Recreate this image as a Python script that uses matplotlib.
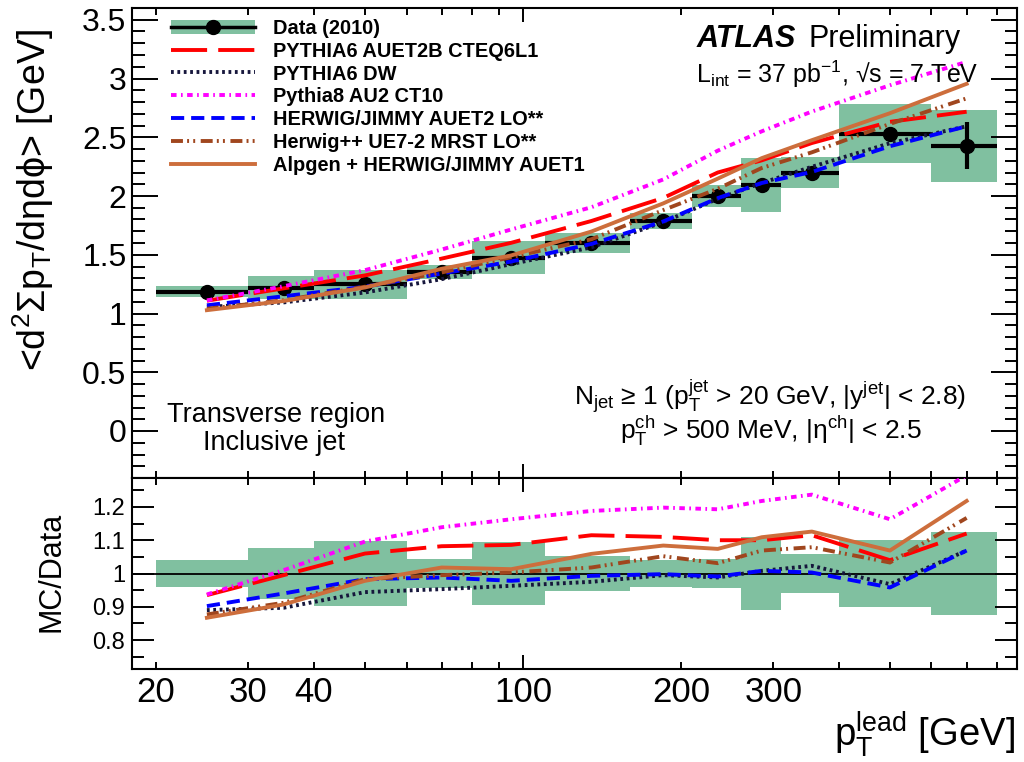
import numpy as np
import matplotlib
matplotlib.use("Agg")
import matplotlib.pyplot as plt
from matplotlib.lines import Line2D
from matplotlib.patches import Patch
from matplotlib.ticker import FixedLocator, MultipleLocator, FuncFormatter, NullFormatter

plt.rcParams["font.family"] = ["Liberation Sans", "DejaVu Sans"]
plt.rcParams["mathtext.fontset"] = "custom"
plt.rcParams["mathtext.rm"] = "Liberation Sans"
plt.rcParams["mathtext.it"] = "Liberation Sans:italic"
plt.rcParams["mathtext.bf"] = "Liberation Sans:bold"
plt.rcParams["lines.scale_dashes"] = False

# binning in leading-jet pT [GeV]
bin_lo = [20, 30, 40, 60, 80, 110, 160, 210, 260, 310, 400, 600]
bin_hi = [30, 40, 60, 80, 110, 160, 210, 260, 310, 400, 600, 800]

# data (2010)
data_val = [1.186, 1.22, 1.249, 1.356, 1.475, 1.603, 1.787, 2.0, 2.094, 2.198, 2.53, 2.426]
data_stat = [0.005, 0.005, 0.006, 0.008, 0.01, 0.012, 0.015, 0.02, 0.025, 0.03, 0.05, 0.2]
data_rel_syst = [0.042, 0.078, 0.098, 0.045, 0.095, 0.053, 0.04, 0.045, 0.11, 0.06, 0.10, 0.125]

# MC / Data ratios
r_py6_auet2b = [0.935, 0.995, 1.06, 1.082, 1.086, 1.115, 1.11, 1.10, 1.10, 1.115, 1.04, 1.12]
r_py6_dw = [0.89, 0.897, 0.944, 0.953, 0.963, 0.975, 0.995, 0.988, 1.008, 1.023, 0.968, 1.069]
r_py8_au2 = [0.937, 1.01, 1.096, 1.139, 1.163, 1.188, 1.198, 1.193, 1.218, 1.237, 1.163, 1.295]
r_hw_auet2 = [0.902, 0.94, 0.983, 0.988, 0.978, 0.993, 0.998, 0.991, 1.008, 1.003, 0.958, 1.069]
r_hwpp_ue72 = [0.877, 0.912, 0.983, 0.995, 1.003, 1.018, 1.052, 1.031, 1.069, 1.079, 1.033, 1.167]
r_alpgen = [0.867, 0.907, 0.978, 1.018, 1.013, 1.059, 1.084, 1.074, 1.109, 1.126, 1.069, 1.218]

mc_labels = ["PYTHIA6 AUET2B CTEQ6L1", "PYTHIA6 DW", "Pythia8 AU2 CT10",
             "HERWIG/JIMMY AUET2 LO**", "Herwig++ UE7-2 MRST LO**",
             "Alpgen + HERWIG/JIMMY AUET1"]
mc_ratios = [r_py6_auet2b, r_py6_dw, r_py8_au2, r_hw_auet2, r_hwpp_ue72, r_alpgen]

x_tick_vals = [20, 30, 40, 50, 60, 70, 80, 90, 100, 200, 300, 400, 500, 600, 700, 800]
x_tick_labels = {20: "20", 30: "30", 40: "40", 100: "100", 200: "200", 300: "300"}

# styles
green = "#80c0a0"
mc_colors = ["#ff0000", "#16163c", "#ff00ff", "#0000ff", "#a0461e", "#cd6e3c"]
mc_dashes = [(26, 8), (2.0, 2.6), (4, 3.2, 1.2, 3.2), (9.5, 5), (8.6, 3, 1.4, 3, 1.4, 4), None]

lo = np.array(bin_lo, float)
hi = np.array(bin_hi, float)
cen = 0.5 * (lo + hi)
dval = np.array(data_val)
dsyst = dval * np.array(data_rel_syst)

W, H = 1024, 762


def fx(x):
    return x / W


def fy(y):
    return 1 - y / H


fig = plt.figure(figsize=(10.24, 7.62), dpi=100)
ax1 = fig.add_axes([fx(132), fy(478), fx(1017) - fx(132), fy(8) - fy(478)])
ax2 = fig.add_axes([fx(132), fy(669), fx(1017) - fx(132), fy(478) - fy(669)])

# top panel
ax1.bar(lo, 2 * dsyst, bottom=dval - dsyst, width=hi - lo, align="edge",
        color=green, edgecolor="none", zorder=1)
ax1.errorbar(cen, dval, xerr=[cen - lo, hi - cen], yerr=data_stat, fmt="o",
             color="k", ms=10, elinewidth=3, capsize=0, zorder=2)
for r, c, d in zip(mc_ratios, mc_colors, mc_dashes):
    ln, = ax1.plot(cen, np.array(r) * dval, color=c, lw=2.8, zorder=3)
    if d is not None:
        ln.set_dashes(d)

# bottom panel
ax2.bar(lo, 2 * np.array(data_rel_syst), bottom=1 - np.array(data_rel_syst),
        width=hi - lo, align="edge", color=green, edgecolor="none", zorder=1)
ax2.axhline(1, color="k", lw=1.3, zorder=2)
for r, c, d in zip(mc_ratios, mc_colors, mc_dashes):
    ln, = ax2.plot(cen, r, color=c, lw=2.8, zorder=3)
    if d is not None:
        ln.set_dashes(d)

fmt_g = FuncFormatter(lambda v, p: f"{round(v, 3) + 0:g}")

for ax in (ax1, ax2):
    ax.set_xscale("log")
    ax.set_xlim(18, 873)
    ax.xaxis.set_major_locator(FixedLocator([100]))
    ax.xaxis.set_minor_locator(FixedLocator([v for v in x_tick_vals if v != 100]))
    ax.tick_params(axis="x", which="major", direction="in", top=True, bottom=True,
                   length=10, width=1.4)
    ax.tick_params(axis="x", which="minor", direction="in", top=True, bottom=True,
                   length=5, width=1.4)
    for s in ax.spines.values():
        s.set_linewidth(1.5)

ax1.xaxis.set_major_formatter(NullFormatter())
ax1.xaxis.set_minor_formatter(NullFormatter())
ax2.xaxis.set_major_formatter(FuncFormatter(lambda v, p: x_tick_labels.get(int(round(v)), "")))
ax2.xaxis.set_minor_formatter(FuncFormatter(lambda v, p: x_tick_labels.get(int(round(v)), "")))
ax2.tick_params(axis="x", which="both", labelsize=25, pad=5)

ax1.set_ylim(-0.4, 3.6)
ax1.yaxis.set_major_locator(MultipleLocator(0.5))
ax1.yaxis.set_minor_locator(MultipleLocator(0.1))
ax1.yaxis.set_major_formatter(fmt_g)
ax1.tick_params(axis="y", which="major", direction="in", left=True, right=True,
                length=19, width=1.4, labelsize=23, pad=4)
ax1.tick_params(axis="y", which="minor", direction="in", left=True, right=True,
                length=9, width=1.4)

ax2.set_ylim(0.713, 1.287)
ax2.yaxis.set_major_locator(MultipleLocator(0.1))
ax2.yaxis.set_minor_locator(MultipleLocator(0.05))
ax2.yaxis.set_major_formatter(fmt_g)
ax2.tick_params(axis="y", which="major", direction="in", left=True, right=True,
                length=16, width=1.4, labelsize=17, pad=5)
ax2.tick_params(axis="y", which="minor", direction="in", left=True, right=True,
                length=8.5, width=1.4)

# legend
data_handle = (Patch(facecolor=green, edgecolor="none"),
               Line2D([], [], color="k", lw=2.5, marker="o", ms=10))
handles = [data_handle]
for c, d in zip(mc_colors, mc_dashes):
    h = Line2D([], [], color=c, lw=2.8)
    if d is not None:
        h.set_dashes(d)
    handles.append(h)
leg = ax1.legend(handles, ["Data (2010)"] + mc_labels, loc="upper left",
                 bbox_to_anchor=(fx(171), fy(19)), bbox_transform=fig.transFigure,
                 frameon=False, numpoints=1, handlelength=4.2, handleheight=0.75,
                 handletextpad=0.88, labelspacing=0.19, borderpad=0, borderaxespad=0,
                 prop={"weight": "bold", "size": 14.4})

# texts
fig.text(fx(697), fy(47), "ATLAS", fontsize=22, weight="bold", style="italic", va="baseline")
fig.text(fx(961), fy(47), "Preliminary", fontsize=22, ha="right", va="baseline")
fig.text(fx(978), fy(83), r"L$_{\mathrm{int}}$ = 37 pb$^{-1}$, √s = 7 TeV",
         fontsize=18, ha="right", va="baseline")
fig.text(fx(770), fy(406),
         r"N$_{\mathrm{jet}}$ ≥ 1 (p$_{\mathrm{T}}^{\mathrm{jet}}$ > 20 GeV, |y$^{\mathrm{jet}}$| < 2.8)",
         fontsize=19, ha="center", va="baseline")
fig.text(fx(771), fy(439), r"p$_{\mathrm{T}}^{\mathrm{ch}}$ > 500 MeV, |η$^{\mathrm{ch}}$| < 2.5",
         fontsize=19, ha="center", va="baseline")
fig.text(fx(276), fy(422), "Transverse region", fontsize=19.5, ha="center", va="baseline")
fig.text(fx(274), fy(450), "Inclusive jet", fontsize=19.5, ha="center", va="baseline")

fig.text(fx(33), fy(200), r"<d$^{2}$Σp$_{\mathrm{T}}$/dηdϕ> [GeV]", fontsize=27,
         rotation=90, ha="center", va="center")
fig.text(fx(51), fy(572), "MC/Data", fontsize=22, rotation=90, ha="center", va="center")
fig.text(fx(1015), fy(746), r"p$_{\mathrm{T}}^{\mathrm{lead}}$ [GeV]", fontsize=27.5,
         ha="right", va="baseline")

fig.savefig("out.png", dpi=100)
